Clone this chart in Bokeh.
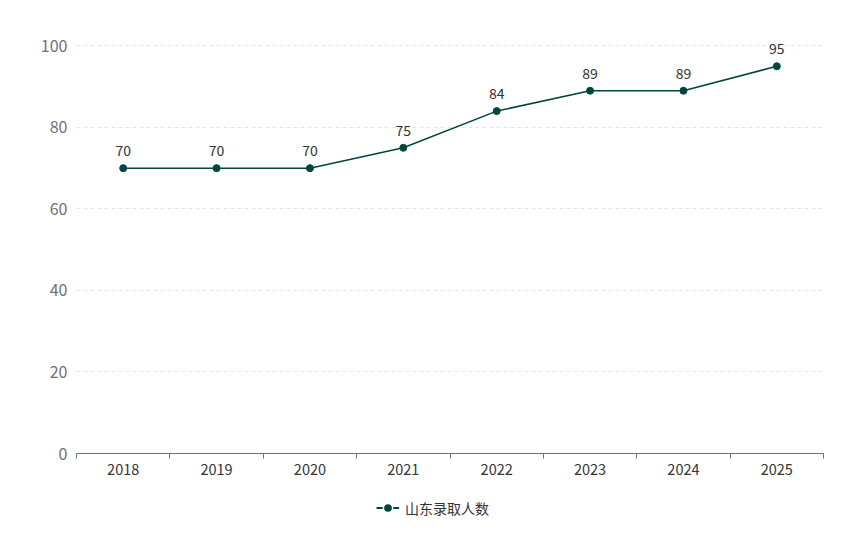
from bokeh.plotting import figure
from bokeh.models import (ColumnDataSource, FixedTicker, Range1d, Legend, LegendItem,
                          LabelSet)
from bokeh.layouts import column
from bokeh.core.properties import value
from bokeh.embed import file_html
from bokeh.resources import INLINE

categories = ["2018", "2019", "2020", "2021", "2022", "2023", "2024", "2025"]
values = [70, 70, 70, 75, 84, 89, 89, 95]
series_name = "山东录取人数"
y_ticks = [0, 20, 40, 60, 80, 100]

FONT = "Noto Sans CJK SC"
LINE_COLOR = "#00463f"
W = 860

xs = [i + 0.5 for i in range(len(categories))]
src = ColumnDataSource(dict(x=xs, y=values, lab=[str(v) for v in values]))

p = figure(width=W, height=482, output_backend="svg", toolbar_location=None,
           x_range=Range1d(0, len(categories)), y_range=Range1d(0, 105),
           min_border_left=76, min_border_right=W - 823, min_border_top=25,
           min_border_bottom=29)
p.outline_line_color = None
p.background_fill_color = "white"
p.border_fill_color = "white"

# x axis
p.xaxis.ticker = FixedTicker(ticks=xs, minor_ticks=list(range(len(categories) + 1)))
p.xaxis.major_label_overrides = {x: c for x, c in zip(xs, categories)}
p.xaxis.major_tick_out = 0
p.xaxis.major_tick_in = 0
p.xaxis.minor_tick_out = 5
p.xaxis.minor_tick_in = 0
p.xaxis.minor_tick_line_color = "#6E7079"
p.xaxis.axis_line_color = "#6E7079"
p.xaxis.major_label_text_font = FONT
p.xaxis.major_label_text_font_size = "14.5px"
p.xaxis.major_label_text_color = "#333333"
p.xaxis.major_label_standoff = 5
p.xgrid.grid_line_color = None

# y axis
p.yaxis.ticker = FixedTicker(ticks=y_ticks)
p.yaxis.axis_line_color = None
p.yaxis.major_tick_line_color = None
p.yaxis.minor_tick_line_color = None
p.yaxis.major_label_text_font = FONT
p.yaxis.major_label_text_font_size = "16px"
p.yaxis.major_label_text_color = "#6E7079"
p.yaxis.major_label_standoff = 3
p.ygrid.grid_line_color = "#E0E6F1"
p.ygrid.grid_line_dash = "4 3"

p.line("x", "y", source=src, line_color=LINE_COLOR, line_width=1.5)
p.scatter("x", "y", source=src, size=7, fill_color=LINE_COLOR, line_color=LINE_COLOR)

labels = LabelSet(x="x", y="y", text="lab", source=src, y_offset=12, text_align="center",
                  text_baseline="bottom", text_font=value(FONT), text_font_size=value("14px"),
                  text_color=value("#333333"))
p.add_layout(labels)

# legend strip below the chart (its frame is aligned with the chart frame)
p2 = figure(width=W, height=60, output_backend="svg", toolbar_location=None,
            x_range=Range1d(0, 1), y_range=Range1d(0, 1), min_border=0)
p2.axis.visible = False
p2.grid.grid_line_color = None
p2.outline_line_color = None
p2.border_fill_color = "white"
lg_line = p2.line(x=[-5, -4], y=[-5, -5], line_color=LINE_COLOR, line_width=2)
lg_pts = p2.scatter(x=[-5], y=[-5], size=10, fill_color=LINE_COLOR, line_color="white",
                    line_width=1.5)
legend = Legend(items=[LegendItem(label=series_name, renderers=[lg_line, lg_pts])],
                orientation="horizontal", location=(300, 23),
                label_text_font=FONT, label_text_font_size="14px", label_text_color="#333333",
                glyph_width=23, glyph_height=23, label_standoff=6,
                border_line_color=None, background_fill_alpha=0, margin=0, padding=0)
p2.add_layout(legend, "center")

open("out.html", "w").write(file_html(column(p, p2), INLINE))
